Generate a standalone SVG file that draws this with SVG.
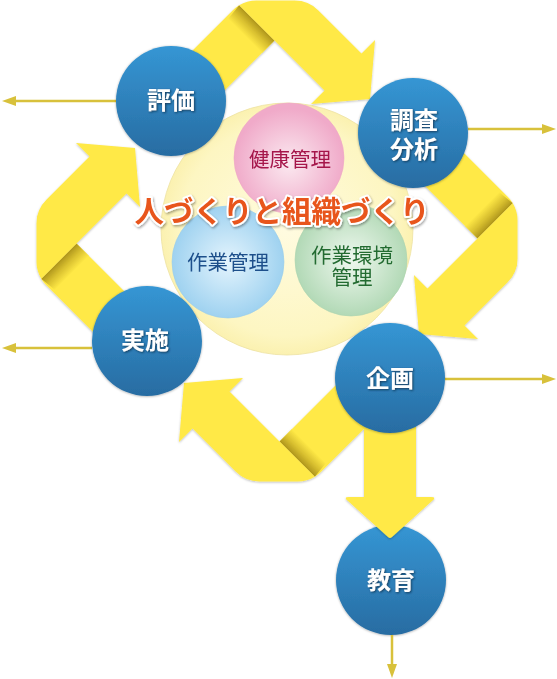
<svg xmlns="http://www.w3.org/2000/svg" width="557" height="679" viewBox="0 0 557 679">
<defs>
<style>
.rib{fill:#ffe946}
.nc{fill:url(#gBlue);filter:url(#nsh)}
.nt{font-family:"Noto Sans CJK JP",sans-serif;font-size:24px;font-weight:bold;fill:#ffffff;text-anchor:middle;filter:url(#tsh)}
.it{font-family:"Noto Sans CJK JP",sans-serif;font-size:20.5px;text-anchor:middle}
.ln{stroke:#d8c13b;stroke-width:2.5;fill:none;marker-end:url(#ah)}
</style>
<linearGradient id="gBlue" x1="0" y1="0" x2="0" y2="1">
<stop offset="0" stop-color="#3596d4"/><stop offset="1" stop-color="#286ca2"/>
</linearGradient>
<radialGradient id="gPale" cx="0.5" cy="0.5" r="0.5">
<stop offset="0" stop-color="#fffbe0"/><stop offset="0.85" stop-color="#fdf6c2"/><stop offset="1" stop-color="#fbf1b0"/>
</radialGradient>
<radialGradient id="gPink" cx="0.5" cy="0.55" r="0.5">
<stop offset="0" stop-color="#fbe9f0"/><stop offset="1" stop-color="#f0aac9"/>
</radialGradient>
<radialGradient id="gSky" cx="0.5" cy="0.5" r="0.5">
<stop offset="0" stop-color="#e4f4fd"/><stop offset="1" stop-color="#9fd2f0"/>
</radialGradient>
<radialGradient id="gGreen" cx="0.5" cy="0.5" r="0.5">
<stop offset="0" stop-color="#eff8ef"/><stop offset="1" stop-color="#b2d9b6"/>
</radialGradient>
<linearGradient id="gFold" gradientUnits="userSpaceOnUse" x1="256.5" y1="22.5" x2="244" y2="35">
<stop offset="0" stop-color="#ae951c"/><stop offset="0.45" stop-color="#d8bf2f"/><stop offset="1" stop-color="#ffe946"/>
</linearGradient>
<filter id="rsh" x="-10%" y="-10%" width="120%" height="120%">
<feDropShadow dx="0" dy="1" stdDeviation="0.8" flood-color="#000" flood-opacity="0.25"/>
</filter>
<filter id="nsh" x="-10%" y="-10%" width="120%" height="120%">
<feDropShadow dx="0" dy="0.5" stdDeviation="1.2" flood-color="#000" flood-opacity="0.35"/>
</filter>
<filter id="tsh" x="-20%" y="-20%" width="140%" height="140%">
<feDropShadow dx="1" dy="1" stdDeviation="0.8" flood-color="#0a2a45" flood-opacity="0.8"/>
</filter>
<filter id="ttl" x="-10%" y="-20%" width="120%" height="140%">
<feDropShadow dx="1" dy="1.5" stdDeviation="1" flood-color="#000" flood-opacity="0.35"/>
</filter>
<marker id="ah" markerUnits="userSpaceOnUse" markerWidth="14" markerHeight="10" refX="4" refY="5" orient="auto">
<path d="M0,0 L14,5 L0,10 Z" fill="#d8c13b"/>
</marker>
<g id="ribbon">
<path class="rib" d="M156.5,86.5 L232.6,10.4 Q235.7,7.3 239.2,5.2 L274.5,40.5 L192.5,122.5 Z"/>
<path fill="url(#gFold)" d="M239.2,5.2 L274.5,40.5 L262,53 L228,19 Z"/>
<path class="rib" d="M274.5,40.5 L239.2,5.2 Q246.8,0.5 256.5,0.5 L294.5,0.5 Q308.5,0.5 318.4,10.4 L361.5,53.5 L375,40 L370,99 L311,104 L324.5,90.5 Z"/>
</g>
</defs>

<g id="center">
<circle cx="287" cy="229" r="126" fill="url(#gPale)" stroke="#eee2a2" stroke-width="0.8"/>
</g>

<g id="kyoiku">
<circle class="nc" cx="391" cy="580" r="55"/>
<text class="nt" x="391" y="589">教育</text>
</g>

<g id="connectors">
<g filter="url(#rsh)">
<use href="#ribbon"/>
<use href="#ribbon" transform="rotate(90 277 241)"/>
<use href="#ribbon" transform="rotate(180 277 241)"/>
<use href="#ribbon" transform="rotate(270 277 241)"/>
<path class="rib" d="M364,400 L416,400 L416,497 L431,497 Q437,497 432,501 L392,537 Q390,539 388,537 L348,501 Q343,497 349,497 L364,497 Z"/>
</g>
<line class="ln" x1="116" y1="101" x2="12" y2="101"/>
<line class="ln" x1="468" y1="129" x2="546" y2="129"/>
<line class="ln" x1="92" y1="348" x2="12" y2="348"/>
<line class="ln" x1="445" y1="379" x2="546" y2="379"/>
<line class="ln" x1="392" y1="635" x2="392" y2="668"/>
</g>

<g id="kenko">
<circle cx="289" cy="158" r="55" fill="url(#gPink)" stroke="#eea7c5" stroke-width="0.6"/>
<text class="it" x="290" y="166.5" fill="#a5164a">健康管理</text>
</g>
<g id="sagyo">
<circle cx="228" cy="262" r="56" fill="url(#gSky)" stroke="#9acdea" stroke-width="0.6"/>
<text class="it" x="228" y="270" fill="#1d4f8b">作業管理</text>
</g>
<g id="kankyo">
<circle cx="351" cy="260" r="56" fill="url(#gGreen)" stroke="#acd4b0" stroke-width="0.6"/>
<text class="it" x="352" y="262.5" fill="#236b31">作業環境</text>
<text class="it" x="352" y="284.5" fill="#236b31">管理</text>
</g>

<g id="title">
<text x="282" y="222" font-family="Noto Sans CJK JP, sans-serif" font-size="29.5" font-weight="bold" text-anchor="middle" fill="#e8541a" stroke="#ffffff" stroke-width="4" stroke-linejoin="round" paint-order="stroke" filter="url(#ttl)">人づくりと組織づくり</text>
</g>

<g id="hyoka">
<circle class="nc" cx="171" cy="101" r="55"/>
<text class="nt" x="171" y="109">評価</text>
</g>
<g id="chosa">
<circle class="nc" cx="413" cy="133" r="55"/>
<text class="nt" x="414" y="129">調査</text>
<text class="nt" x="414" y="157.5">分析</text>
</g>
<g id="kikaku">
<circle class="nc" cx="390" cy="378" r="55"/>
<text class="nt" x="390" y="387">企画</text>
</g>
<g id="jisshi">
<circle class="nc" cx="147" cy="341" r="55"/>
<text class="nt" x="145" y="349">実施</text>
</g>
</svg>
